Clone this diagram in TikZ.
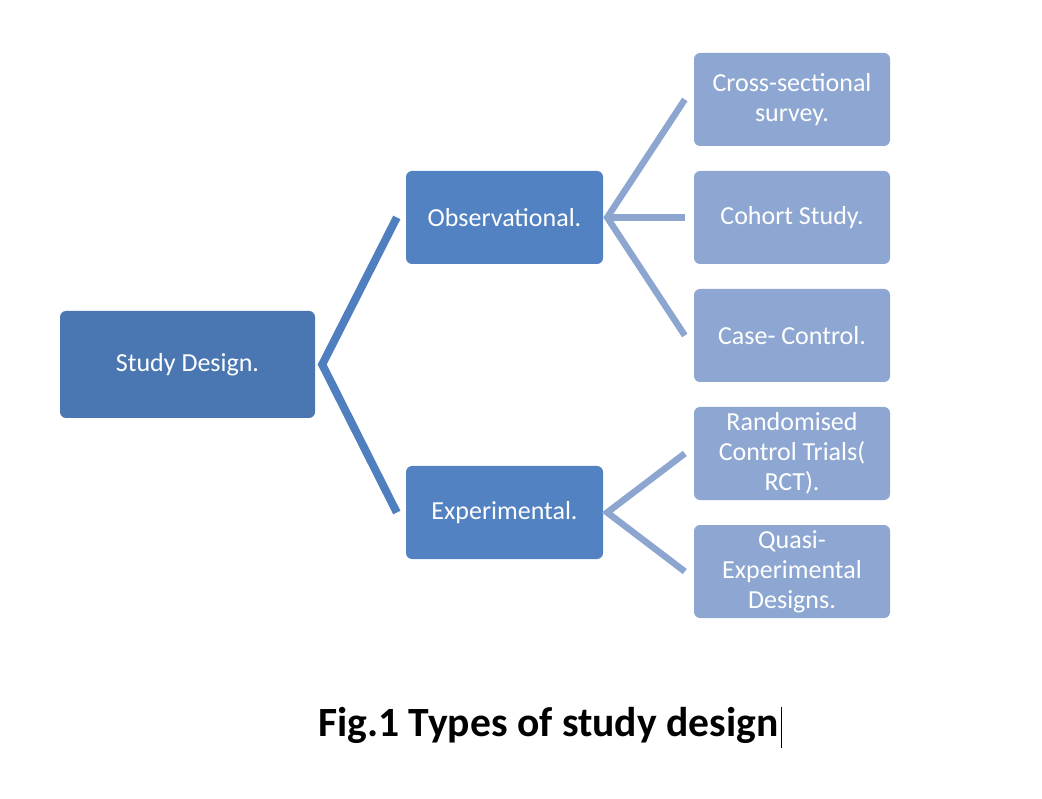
\documentclass[tikz,border=0pt]{standalone}
\usepackage{fontspec}
\setmainfont{Carlito}
\definecolor{rootblue}{HTML}{4A77B1}
\definecolor{midblue}{HTML}{5282C2}
\definecolor{leafblue}{HTML}{8DA7D2}
\definecolor{linkA}{HTML}{4F7FBF}
\definecolor{linkB}{HTML}{8CA6D0}
\begin{document}
\begin{tikzpicture}[x=1pt,y=-1pt,
  box/.style={rectangle, rounded corners=6pt, text=white, align=center,
    font=\fontsize{26}{30}\selectfont, inner sep=0pt},
  rootbox/.style={box, fill=rootblue, minimum width=255pt, minimum height=107pt},
  midbox/.style={box, fill=midblue, minimum width=197pt, minimum height=93pt},
  leafbox/.style={box, fill=leafblue, minimum width=196pt, minimum height=93pt},
  linkone/.style={draw=linkA, line width=8pt, line join=miter},
  linktwo/.style={draw=linkB, line width=6.5pt, line join=miter}]
\useasboundingbox (0,0) rectangle (1042,799);
\fill[white] (0,0) rectangle (1042,799);
\node[rootbox] (sd) at (187.5,364.5) {Study Design.};
\node[midbox] (obs) at (504.5,217.5) {Observational.};
\node[midbox] (exp) at (504.5,512.5) {Experimental.};
\node[leafbox] (cs) at (792,99.5) {Cross-sectional\\survey.};
\node[leafbox] (co) at (792,217.5) {Cohort Study.};
\node[leafbox] (cc) at (792,335.5) {Case- Control.};
\node[leafbox] (rct) at (792,453.5) {Randomised\\Control Trials(\\RCT).};
\node[leafbox] (qe) at (792,571.5) {Quasi-\\Experimental\\Designs.};
% connectors
\coordinate (sdj) at ([xshift=7pt]sd.east);
\coordinate (obsj) at ([xshift=4pt]obs.east);
\coordinate (expj) at ([xshift=4pt]exp.east);
\draw[linkone] ([xshift=-9pt]obs.west) -- (sdj) -- ([xshift=-9pt]exp.west);
\draw[linktwo] ([xshift=-9pt]cs.west) -- (obsj) -- ([xshift=-9pt]cc.west);
\draw[linktwo] (obsj) -- ([xshift=-9pt]co.west);
\draw[linktwo] ([xshift=-9pt]rct.west) -- (expj) -- ([xshift=-9pt]qe.west);
% caption
\node[anchor=base west, inner sep=0pt, font=\fontsize{41.6}{48}\selectfont\bfseries] (cap) at (318,736) {Fig.1 Types of study design};
\coordinate (curtop) at ([xshift=3pt]cap.east |- 0,707);
\coordinate (curbot) at ([xshift=3pt]cap.east |- 0,748);
\draw[black, line width=1.5pt] (curtop) -- (curbot);
\end{tikzpicture}
\end{document}
